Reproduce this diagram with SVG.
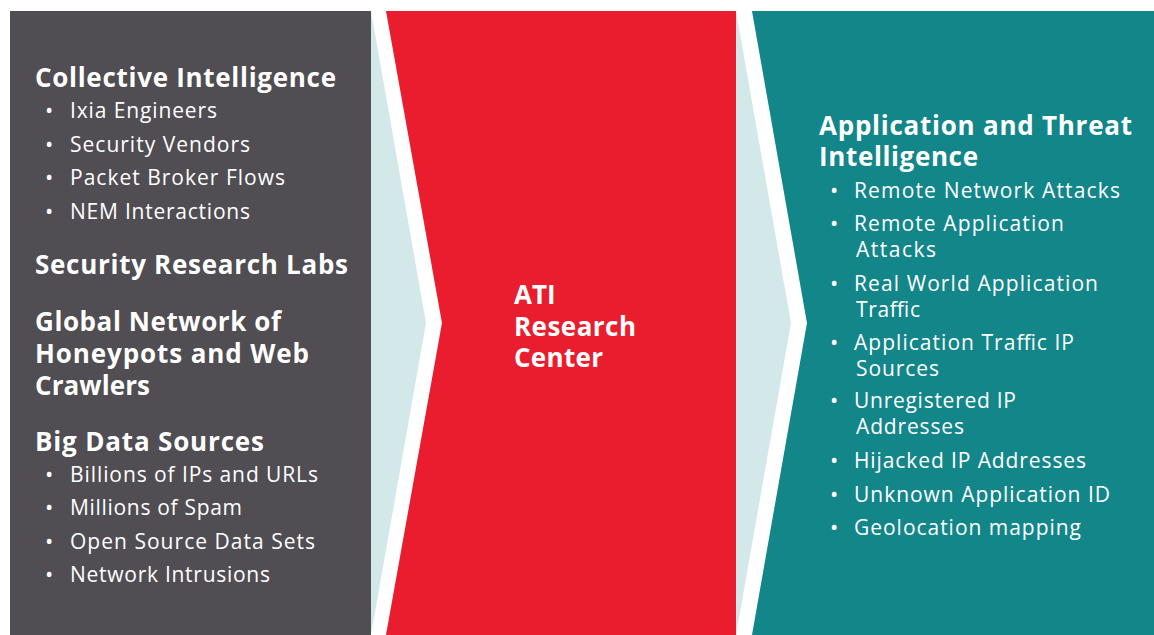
<svg xmlns="http://www.w3.org/2000/svg" width="1154" height="635" viewBox="0 0 1154 635">
  <style>
    text { font-family: "Open Sans", "Liberation Sans", sans-serif; fill: #ffffff; }
    .head { font-size: 26px; font-weight: 700; }
    .item { font-size: 21px; font-weight: 400; }
    .dot { font-size: 22px; font-weight: 400; }
  </style>
  <rect width="1154" height="635" fill="#ffffff"/>

  <!-- light band behind the chevrons -->
  <rect x="371" y="11" width="440" height="624" fill="#d3e9e9"/>

  <!-- sources panel -->
  <g id="sources">
    <rect x="10" y="11" width="361" height="624" fill="#504d53"/>
    <text class="head" x="35" y="87" textLength="301">Collective Intelligence</text>
    <text class="dot" x="45" y="118">•</text>
    <text class="item" x="70" y="118" textLength="147">Ixia Engineers</text>
    <text class="dot" x="45" y="152">•</text>
    <text class="item" x="70" y="152" textLength="180">Security Vendors</text>
    <text class="dot" x="45" y="185">•</text>
    <text class="item" x="70" y="185" textLength="215">Packet Broker Flows</text>
    <text class="dot" x="45" y="219">•</text>
    <text class="item" x="70" y="219" textLength="180">NEM Interactions</text>

    <text class="head" x="35" y="274" textLength="313">Security Research Labs</text>

    <text class="head" x="35" y="331" textLength="246">Global Network of</text>
    <text class="head" x="35" y="363" textLength="274">Honeypots and Web</text>
    <text class="head" x="35" y="395" textLength="115">Crawlers</text>

    <text class="head" x="35" y="451" textLength="229">Big Data Sources</text>
    <text class="dot" x="45" y="482">•</text>
    <text class="item" x="70" y="482" textLength="248">Billions of IPs and URLs</text>
    <text class="dot" x="45" y="515">•</text>
    <text class="item" x="70" y="515" textLength="172">Millions of Spam</text>
    <text class="dot" x="45" y="549">•</text>
    <text class="item" x="70" y="549" textLength="245">Open Source Data Sets</text>
    <text class="dot" x="45" y="582">•</text>
    <text class="item" x="70" y="582" textLength="200">Network Intrusions</text>
  </g>

  <!-- research center chevron -->
  <g id="research-center">
    <polygon points="371,11 386,11 442,323 386,635 371,635 426,323" fill="#ffffff"/>
    <polygon points="386,11 736,11 736,635 386,635 442,323" fill="#e91d2d"/>
    <text class="head" x="514" y="304">ATI</text>
    <text class="head" x="514" y="336" textLength="122">Research</text>
    <text class="head" x="514" y="367" textLength="89">Center</text>
  </g>

  <!-- intelligence output chevron -->
  <g id="intelligence">
    <polygon points="736,11 752,11 807,323 752,635 736,635 791,323" fill="#ffffff"/>
    <polygon points="752,11 1154,11 1154,635 752,635 807,323" fill="#13868a"/>
    <text class="head" x="819" y="135" textLength="313">Application and Threat</text>
    <text class="head" x="819" y="166" textLength="159">Intelligence</text>

    <text class="dot" x="830" y="198">•</text>
    <text class="item" x="854" y="198" textLength="266">Remote Network Attacks</text>
    <text class="dot" x="830" y="231">•</text>
    <text class="item" x="854" y="231" textLength="210">Remote Application</text>
    <text class="item" x="856" y="257" textLength="80">Attacks</text>
    <text class="dot" x="830" y="291">•</text>
    <text class="item" x="854" y="291" textLength="244">Real World Application</text>
    <text class="item" x="856" y="317" textLength="64">Traffic</text>
    <text class="dot" x="830" y="350">•</text>
    <text class="item" x="854" y="350" textLength="220">Application Traffic IP</text>
    <text class="item" x="856" y="376" textLength="83">Sources</text>
    <text class="dot" x="830" y="408">•</text>
    <text class="item" x="854" y="408" textLength="162">Unregistered IP</text>
    <text class="item" x="856" y="434" textLength="108">Addresses</text>
    <text class="dot" x="830" y="468">•</text>
    <text class="item" x="854" y="468" textLength="232">Hijacked IP Addresses</text>
    <text class="dot" x="830" y="502">•</text>
    <text class="item" x="854" y="502" textLength="256">Unknown Application ID</text>
    <text class="dot" x="830" y="535">•</text>
    <text class="item" x="854" y="535" textLength="227">Geolocation mapping</text>
  </g>
</svg>
